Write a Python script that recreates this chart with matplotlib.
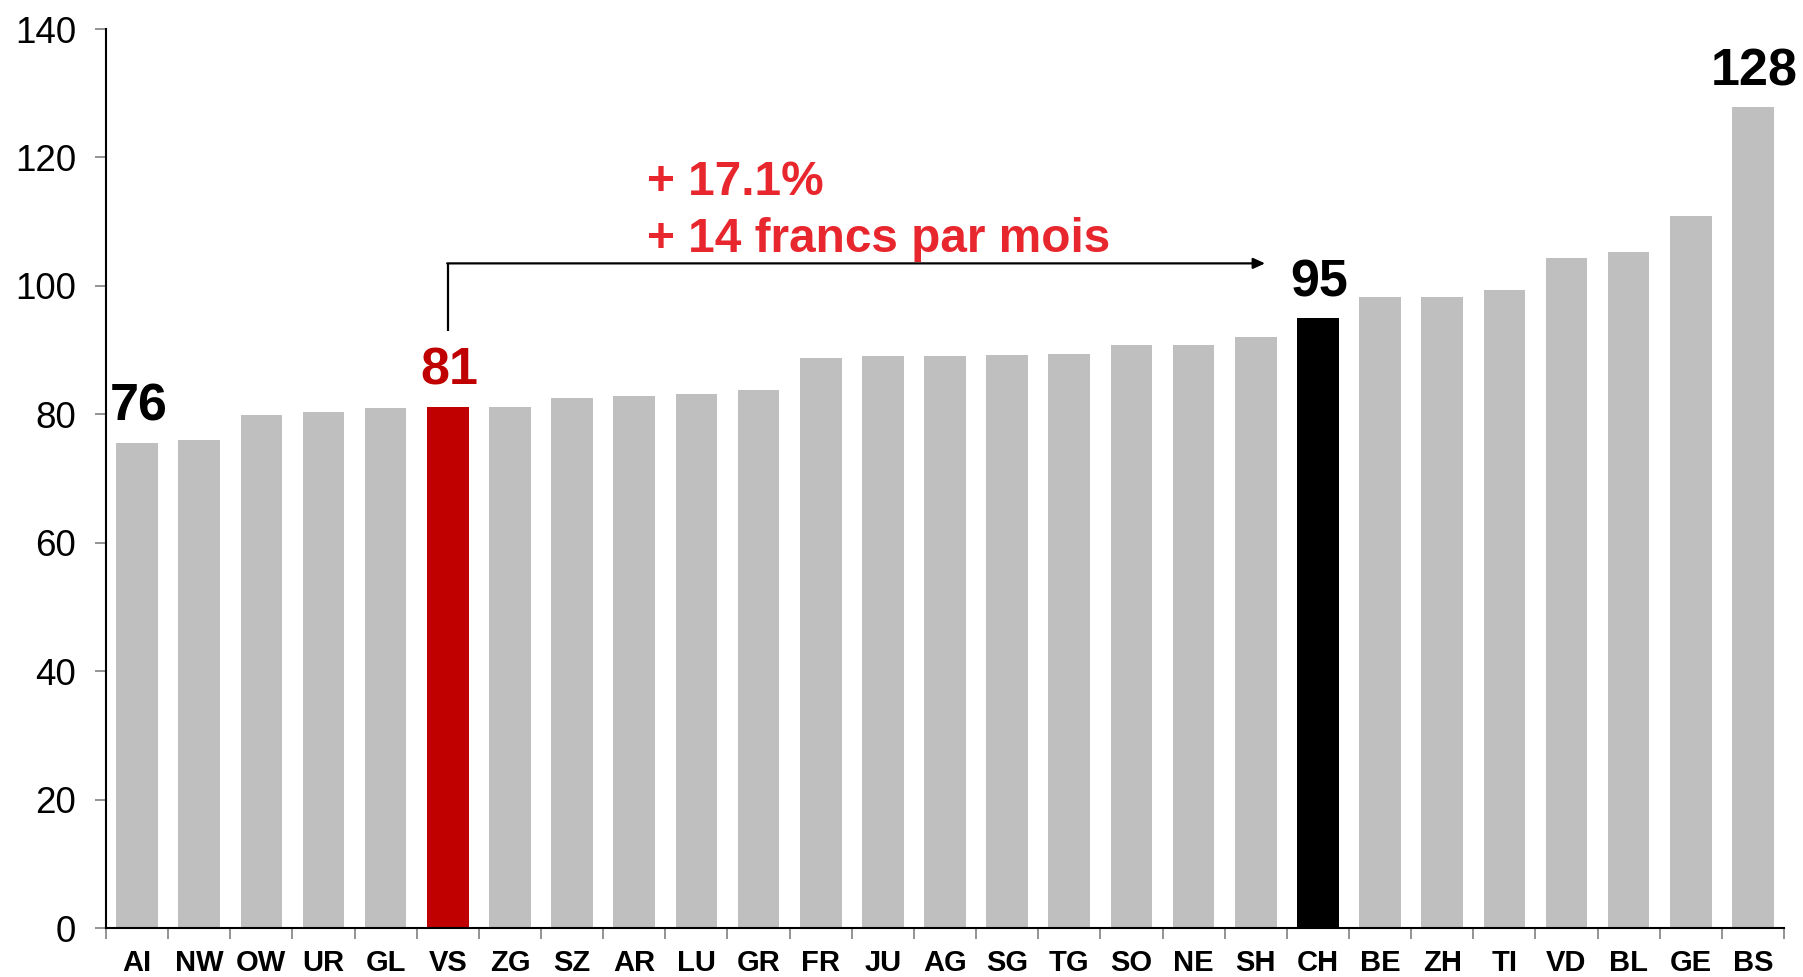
import matplotlib
matplotlib.use("Agg")
import matplotlib.pyplot as plt

cantons = ["AI", "NW", "OW", "UR", "GL", "VS", "ZG", "SZ", "AR", "LU", "GR", "FR", "JU",
           "AG", "SG", "TG", "SO", "NE", "SH", "CH", "BE", "ZH", "TI", "VD", "BL", "GE", "BS"]
values = [75.6, 76.0, 79.9, 80.3, 81.0, 81.2, 81.15, 82.5, 82.8, 83.2, 83.8, 88.8, 89.0,
          89.1, 89.25, 89.45, 90.75, 90.75, 92.0, 95.0, 98.3, 98.3, 99.3, 104.4, 105.3, 110.9, 127.8]
labelled = {"AI": "76", "VS": "81", "CH": "95", "BS": "128"}
annot_lines = ["+ 17.1%", "+ 14 francs par mois"]
yticks = [0, 20, 40, 60, 80, 100, 120, 140]

GREY = "#BFBFBF"
RED_BAR = "#C00000"
RED_TXT = "#E8262D"

plt.rcParams['font.family'] = ['Liberation Sans', 'DejaVu Sans']

fig = plt.figure(figsize=(18.03, 9.77), dpi=100)
ax = fig.add_axes([106/1803, 49/977, (1784-106)/1803, (928-29)/977])

colors = []
for c in cantons:
    if c == "VS":
        colors.append(RED_BAR)
    elif c == "CH":
        colors.append("black")
    else:
        colors.append(GREY)

x = list(range(len(cantons)))
ax.bar(x, values, width=0.67, color=colors)

ax.set_xlim(-0.5, len(cantons) - 0.5)
ax.set_ylim(0, 140)
ax.set_yticks(yticks)
ax.set_yticklabels([str(v) for v in yticks], fontsize=26.5)
ax.tick_params(axis='y', length=8, width=1.2, color='#808080', pad=13.5)

ax.set_xticks([i - 0.5 for i in range(len(cantons) + 1)])
ax.set_xticklabels([])
ax.set_xticks(x, minor=True)
ax.set_xticklabels(cantons, minor=True, fontsize=21, fontweight='bold')
ax.tick_params(axis='x', which='major', length=8, width=1.2, color='#808080')
ax.tick_params(axis='x', which='minor', length=0, pad=15)

for s in ['top', 'right']:
    ax.spines[s].set_visible(False)
for s in ['left', 'bottom']:
    ax.spines[s].set_linewidth(1.5)
    ax.spines[s].set_color('black')

for c, txt in labelled.items():
    i = cantons.index(c)
    col = RED_BAR if c == "VS" else "black"
    ax.annotate(txt, xy=(i, values[i]), xytext=(1.0, 15.8), textcoords='offset points',
                ha='center', va='baseline', fontsize=37.5, fontweight='bold', color=col)

# bracket arrow from VS to CH
i_vs = cantons.index("VS")
ax.plot([i_vs, i_vs], [92.9, 103.5], color='black', lw=1.6, solid_capstyle='butt')
ax.annotate("", xy=(18.15, 103.5), xytext=(i_vs - 0.01, 103.5),
            arrowprops=dict(arrowstyle='-|>,head_length=0.7,head_width=0.32',
                            color='black', lw=1.6, shrinkA=0, shrinkB=0))

ax.text(8.2, 114.2, annot_lines[0], ha='left', va='baseline', fontsize=34.4,
        fontweight='bold', color=RED_TXT)
ax.text(8.2, 105.2, annot_lines[1], ha='left', va='baseline', fontsize=34.4,
        fontweight='bold', color=RED_TXT)

fig.savefig("out.png", dpi=100)
